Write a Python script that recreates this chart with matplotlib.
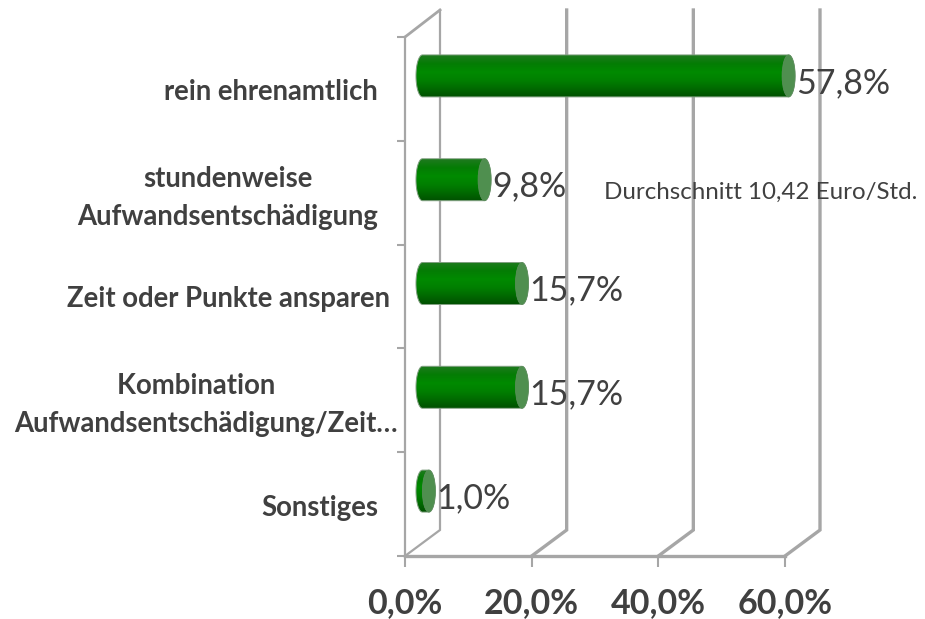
import numpy as np
import matplotlib
matplotlib.use('Agg')
import matplotlib.pyplot as plt
from matplotlib.colors import LinearSegmentedColormap
from matplotlib.patches import Polygon, Ellipse

categories = ['rein ehrenamtlich', 'stundenweise\nAufwandsentschädigung', 'Zeit oder Punkte ansparen',
              'Kombination   \nAufwandsentschädigung/Zeit…', 'Sonstiges']
values = [57.8, 9.8, 15.7, 15.7, 1.0]
value_labels = ['57,8%', '9,8%', '15,7%', '15,7%', '1,0%']
xticks = [0, 20, 40, 60]
xticklabels = ['0,0%', '20,0%', '40,0%', '60,0%']
note = 'Durchschnitt 10,42 Euro/Std.'

plt.rcParams['font.family'] = ['Lato', 'DejaVu Sans']
W, H = 925, 619
GREY = '#a6a6a6'
TXT = '#404040'

fig = plt.figure(figsize=(W/100, H/100), dpi=100)
ax = fig.add_axes([405/W, 1-556/H, 380/W, 519/H])
ax.set_xlim(0, 60)
ax.set_ylim(4.5, -0.5)

# pixels to data units
px = 60/380
py = 5/519
dx, dy = 35*px, -26*py

# 3d walls
for t in xticks:
    ax.plot([t, t+dx, t+dx], [4.5, 4.5+dy, -0.5+dy-1*py], color=GREY, lw=2.4 if t else 1.6, clip_on=False, zorder=1, solid_joinstyle='miter')
ax.plot([0, dx], [-0.5, -0.5+dy-1*py], color=GREY, lw=2, clip_on=False, zorder=1)

for s in ['top', 'right']:
    ax.spines[s].set_visible(False)
ax.spines['left'].set_color(GREY)
ax.spines['left'].set_linewidth(1.6)
ax.spines['bottom'].set_color(GREY)
ax.spines['bottom'].set_linewidth(2.4)
ax.set_xticks(xticks)
ax.set_xticklabels(xticklabels, fontsize=24.5, fontweight='bold', color=TXT)
ax.set_yticks(np.arange(-0.5, 5, 1))
ax.set_yticklabels([])
ax.tick_params(axis='x', length=8, width=1.5, color=GREY, pad=14)
ax.tick_params(axis='y', length=6, width=1.5, color=GREY)

# cylinders
cmap = LinearSegmentedColormap.from_list('cyl', ['#1f7a1f', '#047c04', '#008a00', '#008000', '#006a00', '#005000'])
grad = np.linspace(0, 1, 128).reshape(-1, 1)
x0 = 17.5*px
rx = 6.5*px
ry = 21*py
th = np.linspace(np.pi/2, 3*np.pi/2, 40)
for i, v in enumerate(values):
    yc = i - 13*py
    xe = x0 + v
    left = np.c_[x0 + rx*np.cos(th), yc + ry*np.sin(th)]
    right = np.c_[xe + rx*np.cos(th+np.pi), yc + ry*np.sin(th+np.pi)]
    body = Polygon(np.r_[left, right], closed=True, fc='none', ec='#7f9f7f', lw=0.7, clip_on=False, zorder=3)
    ax.add_patch(body)
    im = ax.imshow(grad, cmap=cmap, aspect='auto', extent=[x0-rx, xe+rx, yc+ry, yc-ry], zorder=2, interpolation='bilinear')
    im.set_clip_path(body)
    im.set_clip_box(fig.bbox)
    ax.add_patch(Ellipse((xe, yc), 2*rx, 2*ry, fc='#4f8f4f', ec='#5f8f5f', lw=0.5, clip_on=False, zorder=4))
    ax.text(xe + rx + 1*px, yc + 7*py, value_labels[i], fontsize=24.5, color=TXT, va='center', ha='left', zorder=5)

ax.set_xlim(0, 60)
ax.set_ylim(4.5, -0.5)

# category labels
label_right = [378, 378, 390, 398, 378]
label_y = [92, 198, 299, 405, 508]
for c, r, y in zip(categories, label_right, label_y):
    ax.text((r-405)*px, (y-37)*py-0.5, c, fontsize=19.8, fontweight='bold', color=TXT, ha='right', va='center',
            multialignment='center', linespacing=1.6, clip_on=False)

ax.text((604-405)*px, (192-37)*py-0.5, note, fontsize=17.4, color=TXT, ha='left', va='center', zorder=5)

fig.savefig('out.png', dpi=100)
